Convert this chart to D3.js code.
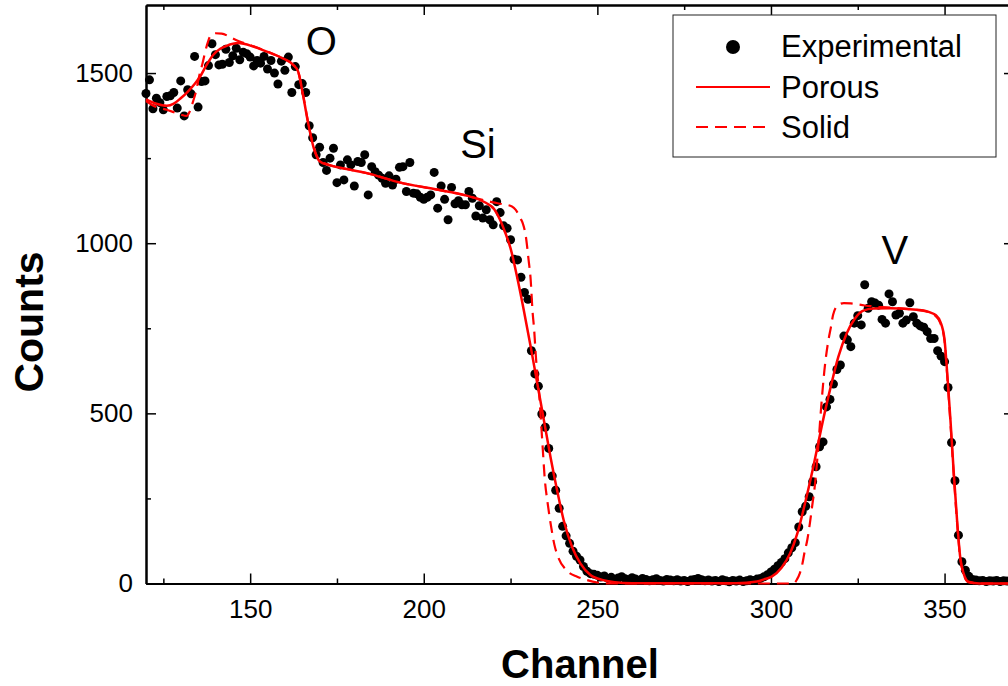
<!DOCTYPE html>
<html>
<head>
<meta charset="utf-8">
<script src="https://cdn.jsdelivr.net/npm/d3@7"></script>
<style>
  html, body { margin: 0; padding: 0; background: #fff; }
  svg { display: block; font-family: "Liberation Sans", Arial, sans-serif; }
</style>
</head>
<body>
<svg id="chart" width="1008" height="686"></svg>
<script>
// measured counts, one per channel starting at 120
const firstChannel = 120;
const experimental = [
  1440, 1480, 1395, 1426, 1413, 1392, 1431, 1433, 1443, 1397,
  1477, 1374, 1451, 1439, 1549, 1400, 1475, 1477, 1522, 1586,
  1554, 1524, 1526, 1570, 1531, 1551, 1573, 1539, 1561, 1557,
  1547, 1521, 1537, 1529, 1549, 1512, 1537, 1500, 1468, 1535,
  1508, 1547, 1443, 1519, 1466, 1469, 1443, 1345, 1310, 1260,
  1282, 1237, 1214, 1250, 1279, 1178, 1230, 1186, 1245, 1230,
  1168, 1240, 1237, 1260, 1142, 1225, 1210, 1200, 1191, 1176,
  1198, 1171, 1188, 1223, 1225, 1152, 1237, 1147, 1145, 1135,
  1129, 1135, 1142, 1208, 1103, 1168, 1129, 1069, 1164, 1116,
  1125, 1113, 1113, 1152, 1132, 1080, 1110, 1074, 1098, 1069,
  1054, 1122, 1090, 1051, 1044, 1010, 953, 951, 900, 855,
  835, 684, 616, 580, 498, 459, 397, 316, 274, 221,
  168, 140, 118, 95, 80, 69, 50, 36, 29, 27,
  24, 19, 22, 15, 18, 12, 16, 20, 14, 11,
  17, 13, 9, 15, 12, 8, 11, 14, 9, 7,
  12, 10, 8, 11, 7, 9, 6, 10, 12, 15,
  11, 8, 10, 7, 9, 6, 11, 8, 5, 9,
  7, 10, 6, 8, 11, 9, 13, 15, 20, 26,
  34, 42, 52, 62, 73, 90, 105, 120, 166, 211,
  227, 255, 299, 343, 402, 416, 519, 541, 586, 629,
  642, 727, 716, 696, 765, 787, 760, 878, 809, 828,
  824, 818, 776, 765, 851, 828, 789, 794, 765, 774,
  825, 784, 765, 757, 753, 740, 720, 720, 684, 668,
  652, 576, 414, 302, 142, 64, 39, 21, 12, 10,
  8, 9, 6, 8, 7, 9, 6, 8, 7
];

// simulated spectra: [channel, counts]
const porous = [
  [120, 1423], [123, 1410], [126, 1404], [128, 1410], [130, 1426], [132, 1445],
  [134, 1468], [135.6, 1490], [137.5, 1525], [139.4, 1554], [141.5, 1572],
  [143.2, 1580], [146.5, 1588], [150.9, 1578], [155, 1562], [159, 1545],
  [162.4, 1524], [163.8, 1505], [165.3, 1431], [166.7, 1353], [168.2, 1284],
  [170.1, 1240], [172.5, 1230], [176, 1222], [183.6, 1206], [193.3, 1178],
  [203, 1159], [212.6, 1139], [216, 1128], [218, 1118], [220.3, 1100],
  [222, 1068], [223.5, 1030], [225, 985], [226.9, 900], [228.8, 804],
  [230.8, 696], [232.7, 588], [234.6, 480], [236.5, 372], [238.4, 274],
  [240.3, 186], [242.7, 108], [245.1, 59], [248, 25], [251.7, 10], [255, 4],
  [260, 1], [290, 1], [296, 6], [298, 12], [300.2, 20], [303.1, 47],
  [305.5, 88], [307.6, 147], [309.8, 235], [312.2, 343], [314.6, 461],
  [317, 569], [319.4, 666], [321.8, 735], [324.2, 779], [326.6, 802],
  [329.6, 808], [334.4, 809], [340, 806], [344, 802], [346, 796],
  [347.4, 789], [348.8, 769], [350, 716], [350.7, 627], [351.7, 480],
  [352.6, 333], [353.6, 186], [354.5, 78], [355.5, 29], [356.9, 5],
  [360, 0], [372, 0]
];
const solid = [
  [120, 1418], [123, 1400], [126, 1392], [128, 1385], [130, 1378], [131.7, 1374],
  [132.5, 1385], [133.6, 1418], [134.5, 1450], [135.3, 1490], [136.2, 1525],
  [137.5, 1580], [138.5, 1608], [140, 1617], [141.8, 1616], [144.2, 1606],
  [146.6, 1594], [150, 1582], [155, 1563], [159, 1545], [162.4, 1524],
  [163.8, 1505], [165.3, 1433], [166.7, 1355], [168.2, 1286], [170.1, 1242],
  [172.5, 1231], [176, 1222], [183.6, 1206], [193.3, 1178], [203, 1159],
  [212.6, 1139], [216, 1130], [220, 1120], [222.5, 1115], [225.4, 1108],
  [226.5, 1098], [227.8, 1074], [228.5, 1059], [229.4, 1020], [230.2, 950],
  [230.8, 892], [231.3, 804], [231.8, 745], [232.3, 666], [233.3, 549],
  [233.8, 471], [234.3, 392], [234.8, 314], [235.7, 235], [236.7, 166],
  [237.6, 115], [238.7, 78], [241.1, 39], [244.2, 20], [247.1, 10], [250, 3],
  [253, 0], [306.5, 0], [307.5, 12], [308.3, 30], [309.1, 60], [309.6, 88],
  [310.5, 130], [311.2, 176], [311.9, 230], [312.5, 275], [313.4, 372],
  [314.4, 510], [315.4, 627], [316.4, 706], [317.3, 755], [317.9, 790],
  [319.4, 819], [321, 824], [323, 823], [327, 817], [331, 813], [336, 810],
  [340, 806], [344, 801], [346, 795], [347.4, 786], [348.8, 765], [350, 712],
  [350.7, 620], [351.7, 470], [352.6, 325], [353.6, 180], [354.5, 75],
  [355.5, 27], [356.9, 4], [360, 0], [372, 0]
];

const xTicks = [150, 200, 250, 300, 350];
const xMinorTicks = [125, 175, 225, 275, 325];
const yTicks = [0, 500, 1000, 1500];
const yMinorTicks = [250, 750, 1250];
const peakLabels = [
  { text: "O", channel: 170.5, counts: 1554 },
  { text: "Si", channel: 215.6, counts: 1251 },
  { text: "V", channel: 335.7, counts: 940 }
];
const legendItems = ["Experimental", "Porous", "Solid"];

const svg = d3.select("#chart");
const plotLeft = 146, plotRight = 1014, plotTop = 5, plotBottom = 583.5;

const x = d3.scaleLinear().domain([120, 370]).range([plotLeft, plotRight]);
const y = d3.scaleLinear().domain([0, 1700]).range([plotBottom, plotTop]);

function styleAxis(g) {
  g.select(".domain").attr("stroke", "#000").attr("stroke-width", 2);
  g.selectAll(".tick line").attr("stroke", "#000").attr("stroke-width", 1.5);
  g.selectAll(".tick text").attr("fill", "#000").style("font-size", "26px")
    .style("font-family", '"Liberation Sans", Arial, sans-serif');
}

// frame axes, ticks pointing inward
svg.append("g").attr("transform", `translate(0,${plotBottom})`)
  .call(d3.axisBottom(x).tickValues(xTicks).tickFormat(d3.format("d"))
    .tickSize(-10).tickSizeOuter(0).tickPadding(16))
  .call(styleAxis);
svg.append("g").attr("transform", `translate(0,${plotBottom})`)
  .call(d3.axisBottom(x).tickValues(xMinorTicks).tickSize(-5).tickSizeOuter(0).tickFormat(""))
  .call(styleAxis);
svg.append("g").attr("transform", `translate(0,${plotTop})`)
  .call(d3.axisTop(x).tickValues(xTicks).tickSize(-10).tickSizeOuter(0).tickFormat(""))
  .call(styleAxis);
svg.append("g").attr("transform", `translate(0,${plotTop})`)
  .call(d3.axisTop(x).tickValues(xMinorTicks).tickSize(-5).tickSizeOuter(0).tickFormat(""))
  .call(styleAxis);

svg.append("g").attr("transform", `translate(${plotLeft},0)`)
  .call(d3.axisLeft(y).tickValues(yTicks).tickFormat(d3.format("d"))
    .tickSize(-10).tickSizeOuter(0).tickPadding(13))
  .call(styleAxis);
svg.append("g").attr("transform", `translate(${plotLeft},0)`)
  .call(d3.axisLeft(y).tickValues(yMinorTicks).tickSize(-5).tickSizeOuter(0).tickFormat(""))
  .call(styleAxis);
svg.append("g").attr("transform", `translate(${plotRight},0)`)
  .call(d3.axisRight(y).tickValues(yTicks).tickSize(-10).tickSizeOuter(0).tickFormat(""))
  .call(styleAxis);
svg.append("g").attr("transform", `translate(${plotRight},0)`)
  .call(d3.axisRight(y).tickValues(yMinorTicks).tickSize(-5).tickSizeOuter(0).tickFormat(""))
  .call(styleAxis);

// axis titles
svg.append("text")
  .attr("x", (plotLeft + plotRight) / 2).attr("y", 678)
  .attr("text-anchor", "middle")
  .style("font-size", "40px").style("font-weight", "bold")
  .text("Channel");
svg.append("text")
  .attr("transform", "translate(43,322) rotate(-90)")
  .attr("text-anchor", "middle")
  .style("font-size", "41px").style("font-weight", "bold")
  .text("Counts");

// measured points
svg.append("g").selectAll("circle")
  .data(experimental)
  .join("circle")
    .attr("cx", (d, i) => x(firstChannel + i))
    .attr("cy", d => y(d))
    .attr("r", 4.5)
    .attr("fill", "#000");

const line = d3.line()
  .x(d => x(d[0]))
  .y(d => y(d[1]))
  .curve(d3.curveMonotoneX);

svg.append("path").datum(solid)
  .attr("d", line)
  .attr("fill", "none").attr("stroke", "#ff0000")
  .attr("stroke-width", 2.2).attr("stroke-dasharray", "12,7");

svg.append("path").datum(porous)
  .attr("d", line)
  .attr("fill", "none").attr("stroke", "#ff0000")
  .attr("stroke-width", 2.5);

// element labels
svg.append("g").selectAll("text")
  .data(peakLabels)
  .join("text")
    .attr("x", d => x(d.channel))
    .attr("y", d => y(d.counts))
    .attr("text-anchor", "middle")
    .style("font-size", "40px")
    .text(d => d.text);

// legend
const legend = svg.append("g");
legend.append("rect")
  .attr("x", 673).attr("y", 15).attr("width", 323).attr("height", 142)
  .attr("fill", "#fff").attr("stroke", "#222").attr("stroke-width", 1);
legend.append("circle").attr("cx", 733).attr("cy", 47).attr("r", 7).attr("fill", "#000");
legend.append("line").attr("x1", 696).attr("x2", 770).attr("y1", 87).attr("y2", 87)
  .attr("stroke", "#ff0000").attr("stroke-width", 2);
legend.append("line").attr("x1", 696).attr("x2", 770).attr("y1", 127).attr("y2", 127)
  .attr("stroke", "#ff0000").attr("stroke-width", 2).attr("stroke-dasharray", "12,7");
legend.selectAll("text.item")
  .data(legendItems)
  .join("text")
    .attr("class", "item")
    .attr("x", 781)
    .attr("y", (d, i) => 57 + i * 40.5)
    .style("font-size", "31px")
    .text(d => d);
</script>
</body>
</html>
